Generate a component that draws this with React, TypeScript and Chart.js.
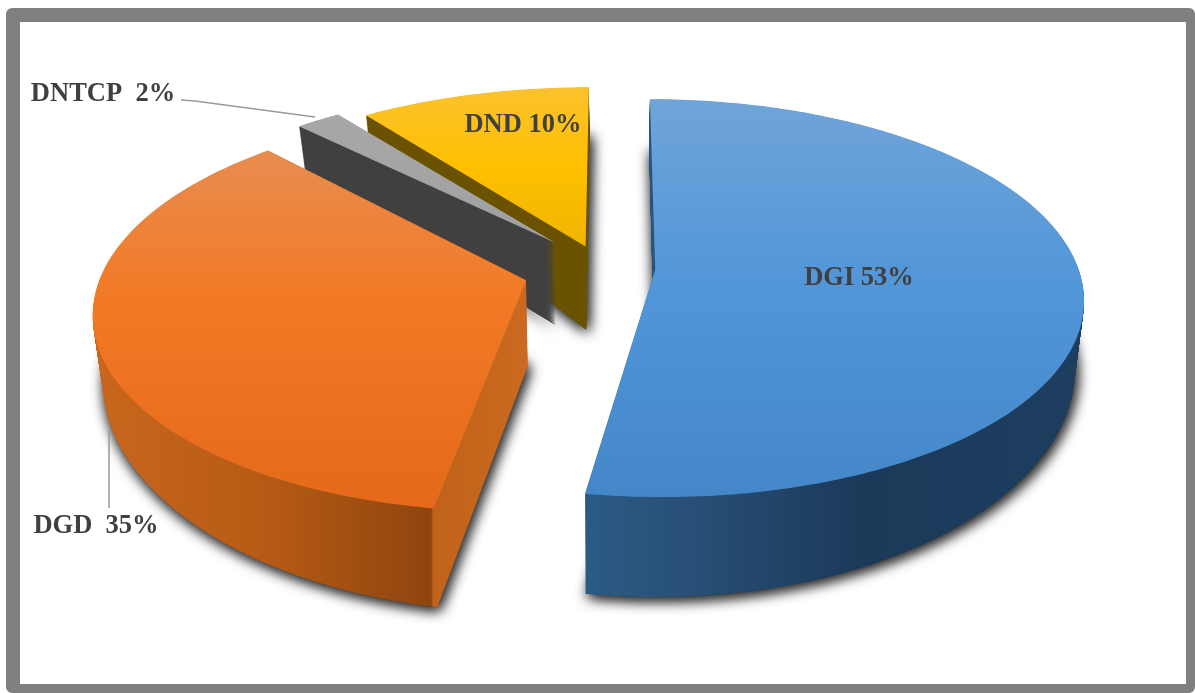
import React, { useEffect, useRef } from "react";
import { Chart, registerables } from "chart.js";

Chart.register(...registerables);

const categories = ["DGI", "DGD", "DNTCP", "DND"];
const shares = [52.5, 35.4, 2.0, 10.1];
const baseColors = ["#5B9BD5", "#ED7D31", "#A5A5A5", "#FFC000"];

// Style of the 3D drawing
const explode = [0.1, 0.21, 0.2, 0.15];
const nudge = [[0, 0], [-0.003, 0], [-0.012, 0.02], [-0.019, 0.03]];
const flatten = [1, 1, 0.94, 0.96];
const paintOrder = [3, 2, 1, 0];
const topStops: [number, number, [number, string][]][] = [
  [100, 500, [[0, "#70a4d9"], [0.5, "#4f95d8"], [1, "#4487c8"]]],
  [150, 510, [[0, "#e88c50"], [0.4, "#f27a26"], [1, "#e4691a"]]],
  [110, 240, [[0, "#a8a8a8"], [1, "#a0a0a0"]]],
  [85, 250, [[0, "#fbc22f"], [0.5, "#ffc000"], [1, "#efb400"]]],
];
const sideStops: [number, number, [number, string][]][] = [
  [587, 1080, [[0, "#2c5a86"], [0.25, "#274d73"], [0.55, "#1b3a5a"], [1, "#1e3e5f"]]],
  [100, 530, [[0, "#c9661d"], [0.4, "#b55a14"], [0.77, "#8f450f"], [0.775, "#c0621a"], [1, "#cb6a20"]]],
  [300, 555, [[0, "#404040"], [1, "#404040"]]],
  [360, 590, [[0, "#6a5200"], [1, "#6a5200"]]],
];
const pct = shares.map((v) => Math.round(v));
const labels = [
  { text: `${categories[0]} ${pct[0]}%`, x: 859, y: 278 },
  { text: `${categories[1]}  ${pct[1]}%`, x: 96, y: 526 },
  { text: `${categories[2]}  ${pct[2]}%`, x: 103, y: 94 },
  { text: `${categories[3]} ${pct[3]}%`, x: 523, y: 125 },
];
const leaders = [
  [[181, 100], [195, 101], [315, 117]],
  [[109, 430], [109, 508]],
];

const X0 = 613, Y0 = 268, RX = 423, RY = 194.4, P = 0.1436, LAYERS = 100;

function project(u: number, v: number, t: number): [number, number] {
  const s = 1 / (1 - P * v);
  let x = X0 + RX * u * s;
  let y = Y0 + RY * v * s;
  const depth = 85 + 15 * v - 15 * u * u - 25 * Math.max(0, -v - 0.2);
  y += t * depth;
  x += (X0 - x) * t * 0.02;
  return [x, y];
}

function gradient(ctx: CanvasRenderingContext2D, spec: [number, number, [number, string][]], horizontal: boolean) {
  const g = horizontal
    ? ctx.createLinearGradient(spec[0], 0, spec[1], 0)
    : ctx.createLinearGradient(0, spec[0], 0, spec[1]);
  spec[2].forEach(([o, c]) => g.addColorStop(o, c));
  return g;
}

// A context that sends everything the arc element traces through the perspective mapping
function projectedContext(ctx: any, arc: any, i: number, t: number, fill: any) {
  const mid = (arc.startAngle + arc.endAngle) / 2;
  const du = Math.cos(mid) * explode[i] + nudge[i][0];
  const dv = Math.sin(mid) * explode[i] + nudge[i][1];
  const map = (x: number, y: number) =>
    project((x - arc.x) / arc.outerRadius + du, ((y - arc.y) / arc.outerRadius) * flatten[i] + dv, t);
  return new Proxy(ctx, {
    get(target, key) {
      if (key === "moveTo" || key === "lineTo") {
        return (x: number, y: number) => {
          const p = map(x, y);
          target[key](p[0], p[1]);
        };
      }
      if (key === "arc") {
        return (x: number, y: number, r: number, a0: number, a1: number) => {
          if (!(r > 0) || !isFinite(a0) || !isFinite(a1)) {
            const p = map(x, y);
            target.lineTo(p[0], p[1]);
            return;
          }
          const n = Math.max(2, Math.ceil(Math.abs(a1 - a0) * 60));
          for (let k = 0; k <= n; k++) {
            const a = a0 + ((a1 - a0) * k) / n;
            const p = map(x + r * Math.cos(a), y + r * Math.sin(a));
            target.lineTo(p[0], p[1]);
          }
        };
      }
      const v = target[key];
      return typeof v === "function" ? v.bind(target) : v;
    },
    set(target, key, value) {
      target[key] = key === "fillStyle" ? fill : value;
      return true;
    },
  });
}

const pie3d = {
  id: "pie3d",
  beforeDatasetsDraw(chart: any) {
    const ctx = chart.ctx;
    const meta = chart.getDatasetMeta(0);
    paintOrder.forEach((i) => {
      const arc = meta.data[i];
      const side = gradient(ctx, sideStops[i], true);
      const top = gradient(ctx, topStops[i], false);
      ctx.save();
      ctx.shadowColor = "rgba(20,20,20,0.8)";
      ctx.shadowBlur = 14;
      ctx.shadowOffsetX = 2;
      ctx.shadowOffsetY = 3;
      arc.draw(projectedContext(ctx, arc, i, 1, side));
      arc.draw(projectedContext(ctx, arc, i, 1, side));
      ctx.restore();
      for (let l = LAYERS - 1; l > 0; l--) {
        arc.draw(projectedContext(ctx, arc, i, l / LAYERS, side));
      }
      arc.draw(projectedContext(ctx, arc, i, 0, top));
    });
    return false;
  },
  afterDraw(chart: any) {
    const ctx = chart.ctx;
    ctx.save();
    ctx.strokeStyle = "#999999";
    ctx.lineWidth = 1.5;
    leaders.forEach((line) => {
      ctx.beginPath();
      line.forEach(([x, y], k) => (k ? ctx.lineTo(x, y) : ctx.moveTo(x, y)));
      ctx.stroke();
    });
    ctx.fillStyle = "#404040";
    ctx.font = "bold 26.5px 'Liberation Serif'";
    ctx.textAlign = "center";
    ctx.textBaseline = "middle";
    labels.forEach((l) => ctx.fillText(l.text, l.x, l.y));
    ctx.restore();
  },
};

export default function App() {
  const ref = useRef<HTMLCanvasElement>(null);
  useEffect(() => {
    const chart = new Chart(ref.current!, {
      type: "pie",
      data: {
        labels: categories,
        datasets: [{ data: shares, backgroundColor: baseColors, borderWidth: 0 }],
      },
      options: {
        animation: false,
        responsive: false,
        plugins: { legend: { display: false }, tooltip: { enabled: false } },
      },
      plugins: [pie3d],
    } as any);
    return () => chart.destroy();
  }, []);
  return (
    <div style={{ position: "fixed", left: 0, top: 0, width: 1195, height: 693, background: "#fff", overflow: "hidden" }}>
      <canvas ref={ref} width={1195} height={693} style={{ position: "absolute", left: 0, top: 0, display: "block" }} />
      <div
        style={{
          position: "absolute",
          left: 6,
          top: 8,
          width: 1166,
          height: 662,
          boxSizing: "content-box",
          borderStyle: "solid",
          borderColor: "#7f7f7f",
          borderWidth: "14px 9px 9px 14px",
          borderRadius: 6,
          pointerEvents: "none",
        }}
      />
    </div>
  );
}
